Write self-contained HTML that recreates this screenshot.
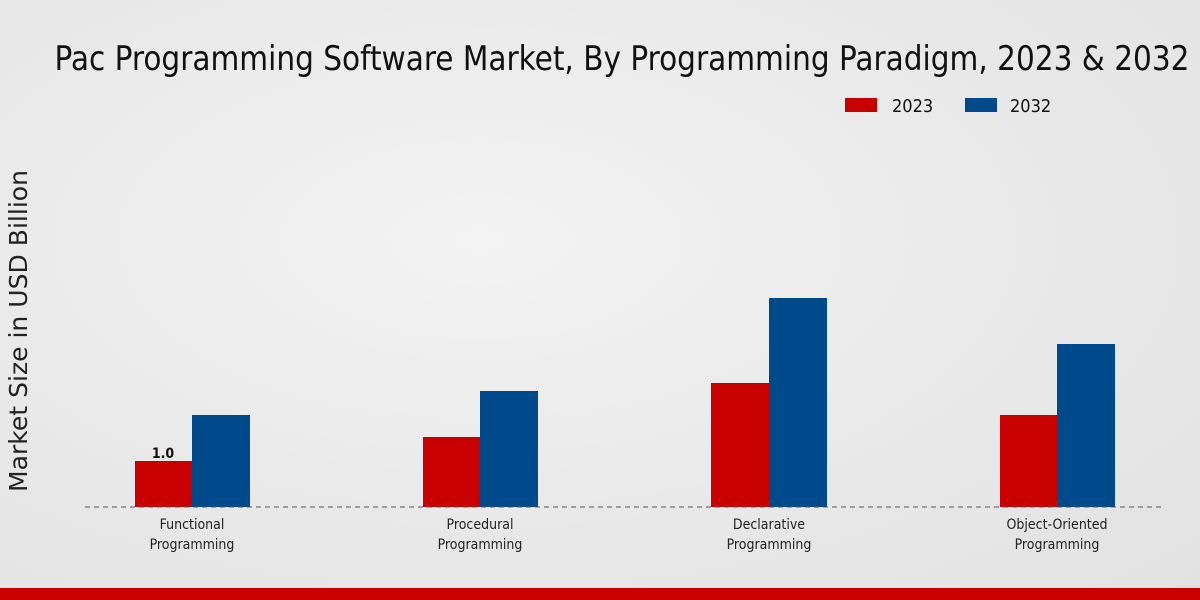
<!DOCTYPE html>
<html><head><style>
html,body{margin:0;padding:0;}
body{width:1200px;height:600px;overflow:hidden;background:radial-gradient(ellipse at 40% 40%,#f3f3f3 0%,#e8e8e8 60%,#e2e2e2 100%);}
svg{display:block;font-family:"DejaVu Sans Condensed","DejaVu Sans","Liberation Sans",sans-serif;}
</style></head><body>
<svg width="1200" height="600" viewBox="0 0 1200 600">
<text x="622" y="70" font-size="34" text-anchor="middle" textLength="1135" lengthAdjust="spacingAndGlyphs" fill="#111">Pac Programming Software Market, By Programming Paradigm, 2023 &amp; 2032</text>
<rect x="845" y="98" width="32" height="14" fill="#c80000"/>
<text x="892" y="112" font-size="18" fill="#111">2023</text>
<rect x="965" y="98" width="32" height="14" fill="#004a8c"/>
<text x="1010" y="112" font-size="18" fill="#111">2032</text>
<text transform="translate(27,331) rotate(-90)" font-size="25" text-anchor="middle" textLength="322" lengthAdjust="spacingAndGlyphs" fill="#222" font-family="DejaVu Sans,sans-serif">Market Size in USD Billion</text>
<rect x="135" y="461" width="57" height="46" fill="#c80000"/>
<rect x="192" y="415" width="58" height="92" fill="#004a8c"/>
<rect x="423" y="437" width="57" height="70" fill="#c80000"/>
<rect x="480" y="391" width="58" height="116" fill="#004a8c"/>
<rect x="711" y="383" width="58" height="124" fill="#c80000"/>
<rect x="769" y="298" width="58" height="209" fill="#004a8c"/>
<rect x="1000" y="415" width="57" height="92" fill="#c80000"/>
<rect x="1057" y="344" width="58" height="163" fill="#004a8c"/>
<text x="163" y="458" font-size="14" font-weight="bold" text-anchor="middle" fill="#111">1.0</text>
<line x1="85" y1="507" x2="1165" y2="507" stroke="#555" stroke-width="1" stroke-dasharray="5,4"/>
<g font-size="14" text-anchor="middle" fill="#222">
<text x="192" y="529">Functional</text><text x="192" y="549">Programming</text>
<text x="480" y="529">Procedural</text><text x="480" y="549">Programming</text>
<text x="769" y="529">Declarative</text><text x="769" y="549">Programming</text>
<text x="1057" y="529">Object-Oriented</text><text x="1057" y="549">Programming</text>
</g>
<rect x="0" y="588" width="1200" height="12" fill="#c80000"/>
</svg>
</body></html>
